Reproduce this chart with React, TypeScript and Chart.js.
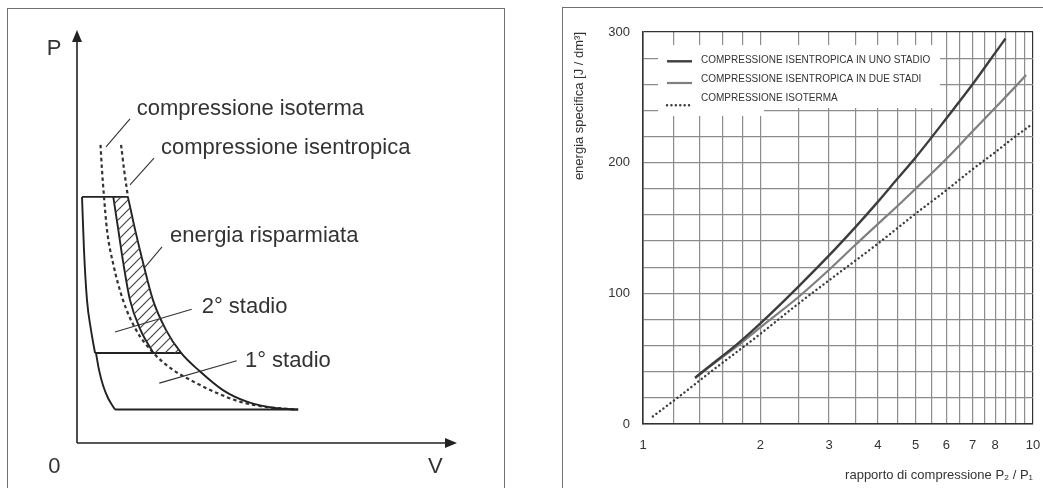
import React, { useEffect, useRef } from 'react';
import { Chart, registerables } from 'chart.js';

Chart.register(...registerables);

const FONT = '"Liberation Sans", Arial, Helvetica, sans-serif';

// ---------------- Right panel: energia specifica vs rapporto di compressione ----------------
const rapportoUnoStadio = [1.36, 1.5, 1.75, 2, 2.5, 3, 3.5, 4, 4.5, 5, 6, 7, 8, 8.5];
const energiaUnoStadio = [35.5, 45.5, 61.5, 77, 105, 129, 150.5, 170, 188, 204, 234, 260, 284, 295];
const rapportoDueStadi = [1.36, 1.5, 1.75, 2, 2.5, 3, 3.5, 4, 4.5, 5, 6, 7, 8, 9, 9.6];
const energiaDueStadi = [35, 45, 60, 74, 97, 118, 137, 153, 167, 180, 203, 224, 242, 258, 267];
const rapportoIsoterma = [1.06, 1.25, 1.5, 2, 2.5, 3, 4, 5, 6, 7, 8, 9, 9.8];
const energiaIsoterma = [5.8, 22, 40.5, 69, 92, 110, 138, 161, 179, 195, 208, 220, 228];

const xGridValues = [1, 1.2, 1.4, 1.6, 1.8, 2, 2.5, 3, 3.5, 4, 4.5, 5, 5.5, 6, 6.5, 7, 7.5, 8, 8.5, 9, 9.5, 10];
const xTickLabels = [1, 2, 3, 4, 5, 6, 7, 8, 10];
const yTickLabels = [0, 100, 200, 300];
const seriesLabels = [
  'COMPRESSIONE ISENTROPICA IN UNO STADIO',
  'COMPRESSIONE ISENTROPICA IN DUE STADI',
  'COMPRESSIONE ISOTERMA',
];
const xTitle = 'rapporto di compressione P\u2082 / P\u2081';
const yTitle = 'energia specifica [J / dm\u00B3]';

// ---------------- Left panel: diagramma P-V (schematic units 0..100) ----------------
const isentropicaV = [13.4, 15.3, 17.4, 20.0, 23.4, 27.4, 32.4, 38.4, 44.7, 52.6, 58.2];
const isentropicaP = [59.6, 51.6, 43.6, 34.6, 27.4, 21.8, 17.3, 12.8, 10.0, 8.4, 8.1];
const secondoStadioV = [9.55, 10.87, 12.18, 13.95, 16.71, 20.1];
const secondoStadioP = [59.6, 51.6, 43.6, 34.6, 27.4, 21.8];
const isotermaV = [6.18, 6.58, 7.11, 7.89, 9.47, 12.11, 15.53, 20.1, 25.26, 29.74, 36.84, 42.89, 50.0, 57.89];
const isotermaP = [72.2, 66.1, 59.6, 51.6, 43.6, 34.6, 27.4, 21.8, 17.7, 15.3, 12.1, 10.0, 8.7, 8.1];
const isentropicaEstV = [11.6, 12.4, 13.4];
const isentropicaEstP = [72.2, 66.1, 59.6];

const pressioneMandata = 59.6;
const pressioneIntermedia = 21.8;
const pressioneAspirazione = 8.1;
const mandataV = [1.32, 13.4];
const intermediaV = [4.74, 27.4];
const aspirazioneV = [10.0, 58.2];
const riespansione2V = [1.32, 1.84, 2.63, 3.68, 4.74];
const riespansione2P = [59.6, 46.7, 34.6, 27.4, 21.8];
const riespansione1V = [5.0, 5.79, 6.84, 8.16, 10.0];
const riespansione1P = [21.8, 17.7, 14.0, 10.9, 8.1];

const noteTesti = ['compressione isoterma', 'compressione isentropica', 'energia risparmiata', '2\u00B0 stadio', '1\u00B0 stadio'];
const noteTestoV = [15.7, 22.1, 24.5, 32.8, 44.2];
const noteTestoP = [79.4, 70.0, 48.6, 31.4, 18.5];
const richiamoDaV = [13.95, 20.26, 22.37, 30.18, 42.03];
const richiamoDaP = [78.5, 69.0, 47.5, 32.4, 19.9];
const richiamoAV = [7.63, 13.95, 17.9, 10.0, 21.66];
const richiamoAP = [71.7, 62.5, 42.6, 26.9, 14.5];

const assiTesti = ['P', '0', 'V'];
const assiTestoV = [-7.97, -7.55, 92.4];
const assiTestoP = [93.9, -7.34, -7.34];
const assiMax = 100;

const pts = (xs: number[], ys: number[]) => xs.map((x, i) => ({ x, y: ys[i] }));

function makeHatch(): any {
  const c = document.createElement('canvas');
  c.width = 10;
  c.height = 10;
  const g = c.getContext('2d');
  if (!g) return '#999';
  g.strokeStyle = '#444';
  g.lineWidth = 1.2;
  g.beginPath();
  g.moveTo(-1, 11);
  g.lineTo(11, -1);
  g.moveTo(-2, 2);
  g.lineTo(2, -2);
  g.moveTo(8, 12);
  g.lineTo(12, 8);
  g.stroke();
  return g.createPattern(c, 'repeat') || '#999';
}

const pvDecor = {
  id: 'pvDecor',
  afterDatasetsDraw(chart: any) {
    const { ctx } = chart;
    const x = chart.scales.x;
    const y = chart.scales.y;
    const px = (v: number) => x.getPixelForValue(v);
    const py = (v: number) => y.getPixelForValue(v);
    ctx.save();
    const x0 = px(0);
    const y0 = py(0);
    const xEnd = px(assiMax);
    const yEnd = py(assiMax);
    ctx.strokeStyle = '#222';
    ctx.fillStyle = '#222';
    ctx.lineWidth = 1.6;
    ctx.beginPath();
    ctx.moveTo(x0, y0);
    ctx.lineTo(x0, yEnd + 8);
    ctx.moveTo(x0, y0);
    ctx.lineTo(xEnd - 8, y0);
    ctx.stroke();
    ctx.beginPath();
    ctx.moveTo(x0, yEnd);
    ctx.lineTo(x0 - 5, yEnd + 12);
    ctx.lineTo(x0 + 5, yEnd + 12);
    ctx.closePath();
    ctx.fill();
    ctx.beginPath();
    ctx.moveTo(xEnd, y0);
    ctx.lineTo(xEnd - 12, y0 - 5);
    ctx.lineTo(xEnd - 12, y0 + 5);
    ctx.closePath();
    ctx.fill();

    ctx.fillStyle = '#333';
    ctx.font = `22px ${FONT}`;
    ctx.textAlign = 'left';
    ctx.textBaseline = 'alphabetic';
    noteTesti.forEach((t, i) => ctx.fillText(t, px(noteTestoV[i]), py(noteTestoP[i])));
    assiTesti.forEach((t, i) => ctx.fillText(t, px(assiTestoV[i]), py(assiTestoP[i])));
    ctx.restore();
  },
};

function PVChart() {
  const ref = useRef<HTMLCanvasElement>(null);
  useEffect(() => {
    const canvas = ref.current;
    if (!canvas) return;
    const outer = pts(isentropicaV, isentropicaP);
    const inner = pts(secondoStadioV, secondoStadioP);
    const hatchShape = [...outer.filter((p) => p.y >= pressioneIntermedia), ...inner.slice().reverse()];
    const base = { showLine: true, pointRadius: 0, fill: false, borderColor: '#222', borderWidth: 1.9 };
    const curve = { ...base, cubicInterpolationMode: 'monotone' };
    const dashed = { ...curve, borderColor: '#333', borderWidth: 2.2, borderDash: [3.5, 3] };
    const leader = { ...base, borderColor: '#333', borderWidth: 1.1 };
    const datasets: any[] = [
      { ...base, label: 'energia risparmiata', data: hatchShape, borderWidth: 0, fill: 'shape', backgroundColor: makeHatch() },
      { ...curve, label: 'isentropica', data: outer },
      { ...curve, label: '2° stadio', data: inner },
      { ...dashed, label: 'isoterma', data: pts(isotermaV, isotermaP) },
      { ...dashed, label: 'isentropica est.', data: pts(isentropicaEstV, isentropicaEstP) },
      { ...base, label: 'mandata', data: mandataV.map((v) => ({ x: v, y: pressioneMandata })) },
      { ...base, label: 'intermedia', data: intermediaV.map((v) => ({ x: v, y: pressioneIntermedia })) },
      { ...base, label: 'aspirazione', data: aspirazioneV.map((v) => ({ x: v, y: pressioneAspirazione })) },
      { ...curve, label: 'riespansione 2', data: pts(riespansione2V, riespansione2P) },
      { ...curve, label: 'riespansione 1', data: pts(riespansione1V, riespansione1P) },
      ...noteTesti.map((t, i) => ({
        ...leader,
        label: 'richiamo ' + t,
        data: [
          { x: richiamoDaV[i], y: richiamoDaP[i] },
          { x: richiamoAV[i], y: richiamoAP[i] },
        ],
      })),
    ];
    const chart = new Chart(canvas, {
      type: 'scatter',
      data: { datasets },
      options: {
        animation: false,
        responsive: false,
        events: [],
        layout: { padding: { left: 68, right: 46, top: 21, bottom: 44 } },
        scales: {
          x: { type: 'linear', min: 0, max: assiMax, display: false },
          y: { type: 'linear', min: 0, max: assiMax, display: false },
        },
        plugins: { legend: { display: false }, tooltip: { enabled: false } },
      } as any,
      plugins: [pvDecor],
    });
    return () => chart.destroy();
  }, []);
  return <canvas ref={ref} width={494} height={478} style={{ width: 494, height: 478, display: 'block' }} />;
}

const legendBox = {
  id: 'legendBox',
  beforeDatasetsDraw(chart: any) {
    const { ctx, chartArea: a } = chart;
    ctx.save();
    ctx.fillStyle = '#fff';
    ctx.fillRect(a.left + 15, a.top + 13, 282, 63);
    ctx.fillRect(a.left + 15, a.top + 76, 106, 8);
    const lineY = [29.3, 51, 73.3];
    const textY = [28.3, 47.7, 66.7];
    chart.data.datasets.forEach((ds: any, i: number) => {
      ctx.strokeStyle = ds.borderColor;
      ctx.lineWidth = ds.borderWidth;
      ctx.lineCap = ds.borderCapStyle || 'butt';
      ctx.setLineDash(ds.borderDash || []);
      ctx.beginPath();
      ctx.moveTo(a.left + 24, a.top + lineY[i]);
      ctx.lineTo(a.left + 49, a.top + lineY[i]);
      ctx.stroke();
      ctx.setLineDash([]);
      ctx.fillStyle = '#333';
      ctx.font = `10px ${FONT}`;
      ctx.textAlign = 'left';
      ctx.textBaseline = 'middle';
      ctx.fillText(ds.label, a.left + 58, a.top + textY[i]);
    });
    ctx.restore();
  },
};

function EnergyChart() {
  const ref = useRef<HTMLCanvasElement>(null);
  useEffect(() => {
    const canvas = ref.current;
    if (!canvas) return;
    const line = { showLine: true, pointRadius: 0, fill: false, cubicInterpolationMode: 'monotone' };
    const datasets: any[] = [
      { ...line, label: seriesLabels[0], data: pts(rapportoUnoStadio, energiaUnoStadio), borderColor: '#3d3d3d', borderWidth: 2.4 },
      { ...line, label: seriesLabels[1], data: pts(rapportoDueStadi, energiaDueStadi), borderColor: '#7f7f7f', borderWidth: 2.2 },
      {
        ...line,
        label: seriesLabels[2],
        data: pts(rapportoIsoterma, energiaIsoterma),
        borderColor: '#3d3d3d',
        borderWidth: 2.4,
        borderDash: [0.1, 4.3],
        borderCapStyle: 'round',
      },
    ];
    const tickFont = { family: FONT, size: 13 };
    const chart = new Chart(canvas, {
      type: 'scatter',
      data: { datasets },
      options: {
        animation: false,
        responsive: false,
        events: [],
        layout: { padding: { left: 0, right: 10, top: 24, bottom: 0 } },
        scales: {
          x: {
            type: 'logarithmic',
            min: 1,
            max: 10,
            afterBuildTicks: (scale: any) => {
              scale.ticks = xGridValues.map((v) => ({ value: v }));
            },
            afterFit: (scale: any) => {
              scale.height = 64;
              scale.paddingLeft = 0;
              scale.paddingRight = 0;
            },
            ticks: {
              autoSkip: false,
              maxRotation: 0,
              minRotation: 0,
              padding: 14,
              color: '#333',
              font: tickFont,
              callback: (v: any) => (xTickLabels.includes(Number(v)) ? String(v) : ''),
            },
            grid: {
              drawTicks: false,
              lineWidth: 1.2,
              color: (c: any) => (c.tick && c.tick.value === 10 ? '#333' : '#8c8c8c'),
            },
            border: { display: true, color: '#333', width: 1.6 },
            title: { display: true, text: xTitle, align: 'end', color: '#333', font: tickFont, padding: { top: 0, bottom: 5 } },
          },
          y: {
            type: 'linear',
            min: 0,
            max: 300,
            afterFit: (scale: any) => {
              scale.width = 80;
              scale.paddingTop = 0;
              scale.paddingBottom = 0;
            },
            ticks: {
              stepSize: 20,
              autoSkip: false,
              padding: 13,
              color: '#333',
              font: tickFont,
              callback: (v: any) => (yTickLabels.includes(Number(v)) ? String(v) : ''),
            },
            grid: {
              drawTicks: false,
              lineWidth: 1.2,
              color: (c: any) => (c.tick && c.tick.value === 300 ? '#333' : '#8c8c8c'),
            },
            border: { display: true, color: '#333', width: 1.6 },
            title: { display: true, text: yTitle, align: 'end', color: '#333', font: tickFont, padding: { top: 9, bottom: 0 } },
          },
        },
        plugins: { legend: { display: false }, tooltip: { enabled: false } },
      } as any,
      plugins: [legendBox],
    });
    return () => chart.destroy();
  }, []);
  return <canvas ref={ref} width={480} height={480} style={{ width: 480, height: 480, display: 'block' }} />;
}

export default function App() {
  const frame = '1px solid #707070';
  return (
    <div style={{ position: 'fixed', left: 0, top: 0, right: 0, bottom: 0, overflow: 'hidden', background: '#fff' }}>
      <div
        style={{
          position: 'absolute',
          left: 7,
          top: 8,
          width: 498,
          height: 600,
          boxSizing: 'border-box',
          borderLeft: frame,
          borderTop: frame,
          borderRight: frame,
        }}
      />
      <div
        style={{
          position: 'absolute',
          left: 562,
          top: 7,
          width: 600,
          height: 600,
          boxSizing: 'border-box',
          borderLeft: frame,
          borderTop: frame,
        }}
      />
      <div style={{ position: 'absolute', left: 9, top: 9 }}>
        <PVChart />
      </div>
      <div style={{ position: 'absolute', left: 563, top: 8 }}>
        <EnergyChart />
      </div>
    </div>
  );
}
